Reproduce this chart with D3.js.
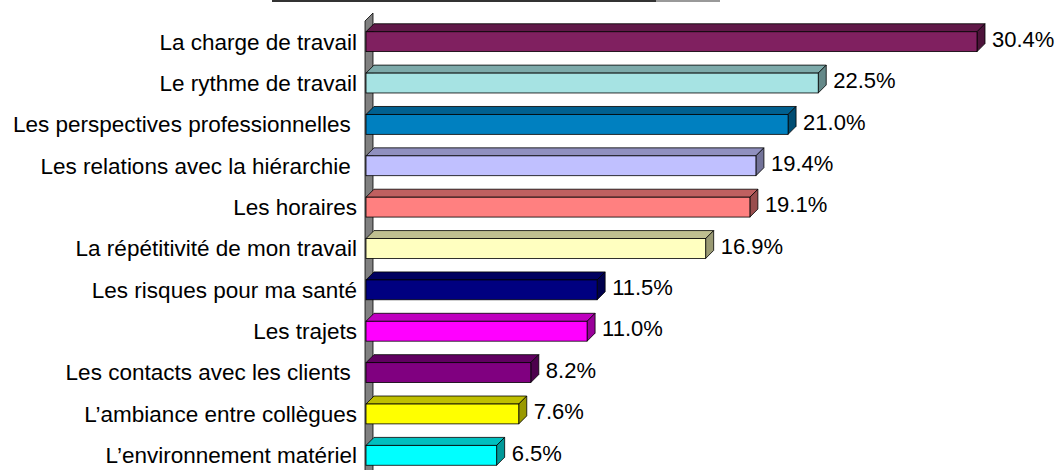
<!DOCTYPE html>
<html><head><meta charset="utf-8">
<script src="https://cdn.jsdelivr.net/npm/d3@7"></script>
<style>body{margin:0;background:#fff}svg{display:block}text{font-family:"Liberation Sans",Arial,sans-serif}</style>
</head><body>
<svg id="c" width="1056" height="470"></svg>
<script>
const categories = ["La charge de travail","Le rythme de travail","Les perspectives professionnelles ","Les relations avec la hiérarchie ","Les horaires","La répétitivité de mon travail","Les risques pour ma santé","Les trajets","Les contacts avec les clients ","L\u2019ambiance entre collègues","L\u2019environnement matériel"];
const values = [30.4,22.5,21.0,19.4,19.1,16.9,11.5,11.0,8.2,7.6,6.5];
const valueLabels = ["30.4%","22.5%","21.0%","19.4%","19.1%","16.9%","11.5%","11.0%","8.2%","7.6%","6.5%"];
const colors = ["#802060","#a6e3e3","#0080c0","#c0c0ff","#ff8080","#ffffc0","#000080","#ff00ff","#800080","#ffff00","#00ffff"];

const svg = d3.select("#c");
const x0 = 366, dx = 8, dy = 8;
const x = d3.scaleLinear().domain([0, 30.4]).range([x0, 977]);
const y = d3.scaleBand().domain(categories).range([21, 476]).paddingInner(0.52).paddingOuter(0.26);

// top decoration line
svg.append("line").attr("x1",272).attr("x2",656).attr("y1",1).attr("y2",1).attr("stroke","#333").attr("stroke-width",2);
svg.append("line").attr("x1",656).attr("x2",720).attr("y1",1).attr("y2",1).attr("stroke","#999").attr("stroke-width",2);

// wall
svg.append("path")
  .attr("d", `M${x0-1},${y.range()[0]}L${x0-1+dx},${y.range()[0]-dy}L${x0-1+dx},480L${x0-1},480Z`)
  .attr("fill","#808080").attr("stroke","#000").attr("stroke-width",0.8);

const g = svg.append("g");
categories.forEach((c,i)=>{
  const yt = y(c), h = y.bandwidth(), xe = x(values[i]);
  const col = d3.color(colors[i]);
  const top = d3.rgb(col.r*0.75, col.g*0.75, col.b*0.75);
  const side = d3.rgb(col.r*0.6, col.g*0.6, col.b*0.6);
  g.append("path").attr("d",`M${x0},${yt}L${x0+dx},${yt-dy}L${xe+dx},${yt-dy}L${xe},${yt}Z`)
    .attr("fill",top).attr("stroke","#000").attr("stroke-width",0.8);
  g.append("path").attr("d",`M${xe},${yt}L${xe+dx},${yt-dy}L${xe+dx},${yt+h-dy}L${xe},${yt+h}Z`)
    .attr("fill",side).attr("stroke","#000").attr("stroke-width",0.8);
  g.append("rect").attr("x",x0).attr("y",yt).attr("width",xe-x0).attr("height",h)
    .attr("fill",col).attr("stroke","#000").attr("stroke-width",0.8);
  g.append("text").attr("x",xe+dx+7).attr("y",yt+h/2-2.5).attr("dy","0.35em")
    .attr("font-size",22).attr("fill","#000").text(valueLabels[i]);
  g.append("text").attr("x",357).attr("y",yt+h/2).attr("dy","0.35em")
    .attr("text-anchor","end").attr("font-size",22.5).style("white-space","pre").attr("fill","#000").text(c);
});
</script>
</body></html>
